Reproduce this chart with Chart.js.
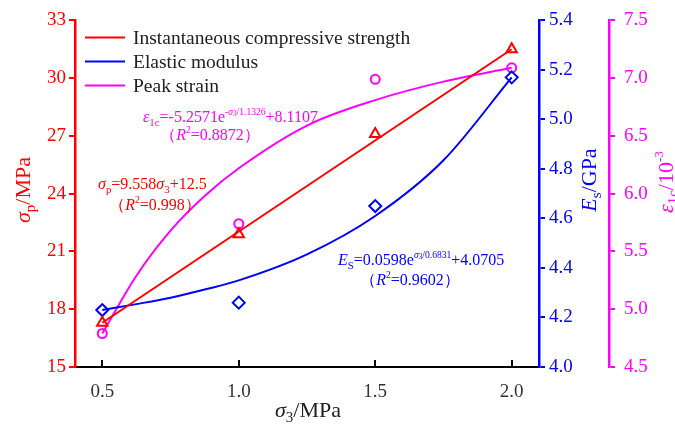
<!DOCTYPE html>
<html>
<head>
<meta charset="utf-8">
<script src="https://cdn.jsdelivr.net/npm/chart.js@4.4.1/dist/chart.umd.min.js"></script>
<style>
html,body{margin:0;padding:0;background:#fff;}
#wrap{width:675px;height:425px;}
</style>
</head>
<body>
<div id="wrap"><canvas id="c" width="675" height="425"></canvas></div>
<script>
// ---- data ----
const xTicks = [0.5, 1.0, 1.5, 2.0];
const strengthTicks = [15, 18, 21, 24, 27, 30, 33];
const modulusTicks = [4.0, 4.2, 4.4, 4.6, 4.8, 5.0, 5.2, 5.4];
const strainTicks = [4.5, 5.0, 5.5, 6.0, 6.5, 7.0, 7.5];

const sigma3 = [0.5, 1.0, 1.5, 2.0];
const strength = [17.3, 21.9, 27.1, 31.5];     // MPa (triangles)
const modulus = [4.23, 4.26, 4.65, 5.17];      // GPa (diamonds)
const peakStrain = [4.79, 5.74, 6.99, 7.09];   // 10^-3 (circles)

// fitted curves
const strengthFitX = [0.5, 2.0];
const strengthFit = [17.3, 31.5];
const curveX = [0.5, 0.625, 0.75, 0.875, 1.0, 1.25, 1.5, 1.75, 2.0];
const modulusFit = [4.23, 4.254, 4.28, 4.313, 4.35, 4.455, 4.61, 4.835, 5.17];
const strainFit = [4.79, 5.29, 5.68, 5.98, 6.22, 6.59, 6.81, 6.97, 7.09];

const legendLabels = ['Instantaneous compressive strength', 'Elastic modulus', 'Peak strain'];

const RED = '#ff0000', BLUE = '#0000ff', MAG = '#ff00ff';
const SERIF = '"Liberation Serif", "Times New Roman", serif';

function pts(xs, ys){ return xs.map((x,i)=>({x:x, y:ys[i]})); }

// rich text: runs {t, i: italic, s: 'sub'|'sup'|'supsub'}
const RS = {sub:[0.68, 0.3], sup:[0.6, -0.35], supsub:[0.45, -0.22]};
function runFont(r, size){
  const fs = r.s ? size*RS[r.s][0] : size;
  return (r.i?'italic ':'') + fs + 'px ' + SERIF;
}
function richWidth(ctx, runs, size){
  let w = 0;
  for (const r of runs){ ctx.font = runFont(r, size); w += ctx.measureText(r.t).width; }
  return w;
}
function drawRich(ctx, x, y, runs, size, color){
  ctx.fillStyle = color;
  ctx.textBaseline = 'middle';
  ctx.textAlign = 'left';
  let cx = x;
  for (const r of runs){
    const dy = r.s ? size*RS[r.s][1] : 0;
    ctx.font = runFont(r, size);
    ctx.fillText(r.t, cx, y+dy);
    cx += ctx.measureText(r.t).width;
  }
}
function drawRichRot(ctx, cx, cy, runs, size, color){
  ctx.save();
  ctx.translate(cx, cy);
  ctx.rotate(-Math.PI/2);
  const w = richWidth(ctx, runs, size);
  drawRich(ctx, -w/2, 0, runs, size, color);
  ctx.restore();
}
function drawRichCenter(ctx, cx, cy, runs, size, color){
  const w = richWidth(ctx, runs, size);
  drawRich(ctx, cx - w/2, cy, runs, size, color);
}

const overlay = {
  id: 'overlay',
  afterDraw(chart){
    const ctx = chart.ctx;
    const xs = chart.scales.x;
    const area = chart.chartArea;
    ctx.save();
    // inside tick marks on the x axis
    ctx.strokeStyle = '#000';
    ctx.lineWidth = 2;
    for (const v of xTicks){
      const px = Math.round(xs.getPixelForValue(v));
      ctx.beginPath(); ctx.moveTo(px, area.bottom); ctx.lineTo(px, area.bottom-7); ctx.stroke();
    }
    // legend
    const lx0 = area.left + 10, lx1 = area.left + 50, tx = area.left + 58;
    const rows = [area.top + 17, area.top + 41, area.top + 65];
    const cols = [RED, BLUE, MAG];
    ctx.lineWidth = 2;
    legendLabels.forEach((lab, i)=>{
      ctx.strokeStyle = cols[i];
      ctx.beginPath(); ctx.moveTo(lx0, rows[i]); ctx.lineTo(lx1, rows[i]); ctx.stroke();
      ctx.fillStyle = '#222';
      ctx.font = '19.5px ' + SERIF;
      ctx.textBaseline = 'middle'; ctx.textAlign = 'left';
      ctx.fillText(lab, tx, rows[i]+1);
    });
    // axis titles
    drawRichRot(ctx, 24, 190, [{t:'σ',i:true},{t:'p',s:'sub'},{t:'/MPa'}], 22, RED);
    drawRichRot(ctx, 590, 180, [{t:'E',i:true},{t:'s',s:'sub'},{t:'/GPa'}], 22, BLUE);
    drawRichRot(ctx, 667, 182, [{t:'ε',i:true},{t:'1c',s:'sub'},{t:'/10'},{t:'-3',s:'sup'}], 22, MAG);
    drawRichCenter(ctx, 308, 411, [{t:'σ',i:true},{t:'3',s:'sub'},{t:'/MPa'}], 22, '#222');
    // fitted equations
    drawRich(ctx, 143, 118, [{t:'ε',i:true},{t:'1c',s:'sub'},{t:'=-5.2571e'},{t:'-',s:'sup'},{t:'σ',s:'sup',i:true},{t:'3',s:'supsub'},{t:'/1.1326',s:'sup'},{t:'+8.1107'}], 16, MAG);
    drawRichCenter(ctx, 210, 136, [{t:'（'},{t:'R',i:true},{t:'2',s:'sup'},{t:'=0.8872）'}], 16, MAG);
    drawRich(ctx, 98, 185, [{t:'σ',i:true},{t:'p',s:'sub'},{t:'=9.558'},{t:'σ',i:true},{t:'3',s:'sub'},{t:'+12.5'}], 16, RED);
    drawRichCenter(ctx, 155, 206, [{t:'（'},{t:'R',i:true},{t:'2',s:'sup'},{t:'=0.998）'}], 16, RED);
    drawRich(ctx, 338, 261, [{t:'E',i:true},{t:'S',s:'sub'},{t:'=0.0598e'},{t:'σ',s:'sup',i:true},{t:'3',s:'supsub'},{t:'/0.6831',s:'sup'},{t:'+4.0705'}], 16, BLUE);
    drawRichCenter(ctx, 410, 281, [{t:'（'},{t:'R',i:true},{t:'2',s:'sup'},{t:'=0.9602）'}], 16, BLUE);
    ctx.restore();
  }
};

function setTicks(arr){ return function(scale){ scale.ticks = arr.map(v=>({value:v})); }; }

const tickFont = {family: SERIF, size: 19};

new Chart(document.getElementById('c'), {
  type: 'scatter',
  data: {
    datasets: [
      {label:'fit-strength', data: pts(strengthFitX, strengthFit), showLine:true, borderColor:RED, borderWidth:2, pointRadius:0, yAxisID:'y', order:2},
      {label:'strength', data: pts(sigma3, strength), showLine:false, pointStyle:'triangle', pointRadius:6, borderColor:RED, backgroundColor:'rgba(0,0,0,0)', pointBorderWidth:2, yAxisID:'y', order:1},
      {label:'fit-modulus', data: pts(curveX, modulusFit), showLine:true, cubicInterpolationMode:'monotone', borderColor:BLUE, borderWidth:2, pointRadius:0, yAxisID:'y1', order:2},
      {label:'modulus', data: pts(sigma3, modulus), showLine:false, pointStyle:'rectRot', pointRadius:6, borderColor:BLUE, backgroundColor:'rgba(0,0,0,0)', pointBorderWidth:2, yAxisID:'y1', order:1},
      {label:'fit-strain', data: pts(curveX, strainFit), showLine:true, cubicInterpolationMode:'monotone', borderColor:MAG, borderWidth:2, pointRadius:0, yAxisID:'y2', order:2},
      {label:'strain', data: pts(sigma3, peakStrain), showLine:false, pointStyle:'circle', pointRadius:4.5, borderColor:MAG, backgroundColor:'rgba(0,0,0,0)', pointBorderWidth:2, yAxisID:'y2', order:1}
    ]
  },
  options: {
    responsive: false,
    devicePixelRatio: 1,
    animation: false,
    layout: {padding: {top: 19, left: 0, right: 0, bottom: 0}},
    plugins: {legend: {display:false}, tooltip: {enabled:false}},
    scales: {
      x: {
        type:'linear', min:0.4, max:2.1,
        afterBuildTicks: setTicks(xTicks),
        afterFit: s => { s.height = 58; },
        grid: {display:false},
        border: {display:true, color:'#000', width:2},
        ticks: {color:'#333', font:tickFont, padding:6, callback: v => Number(v).toFixed(1)}
      },
      y: {
        position:'left', min:15, max:33,
        afterBuildTicks: setTicks(strengthTicks),
        afterFit: s => { s.width = 75; },
        grid: {display:true, drawOnChartArea:false, color:RED, lineWidth:2, tickLength:6},
        border: {display:true, color:RED, width:2.5},
        ticks: {color:RED, font:tickFont, padding:3, callback: v => String(v)}
      },
      y1: {
        position:'right', min:4.0, max:5.4,
        afterBuildTicks: setTicks(modulusTicks),
        afterFit: s => { s.width = 70; },
        grid: {display:true, drawOnChartArea:false, color:BLUE, lineWidth:2, tickLength:6},
        border: {display:true, color:BLUE, width:2.5},
        ticks: {color:BLUE, font:tickFont, padding:4, callback: v => Number(v).toFixed(1)}
      },
      y2: {
        position:'right', min:4.5, max:7.5,
        afterBuildTicks: setTicks(strainTicks),
        afterFit: s => { s.width = 66; },
        grid: {display:true, drawOnChartArea:false, color:MAG, lineWidth:2, tickLength:6},
        border: {display:true, color:MAG, width:2.5},
        ticks: {color:MAG, font:tickFont, padding:9, callback: v => Number(v).toFixed(1)}
      }
    }
  },
  plugins: [overlay]
});
</script>
</body>
</html>
